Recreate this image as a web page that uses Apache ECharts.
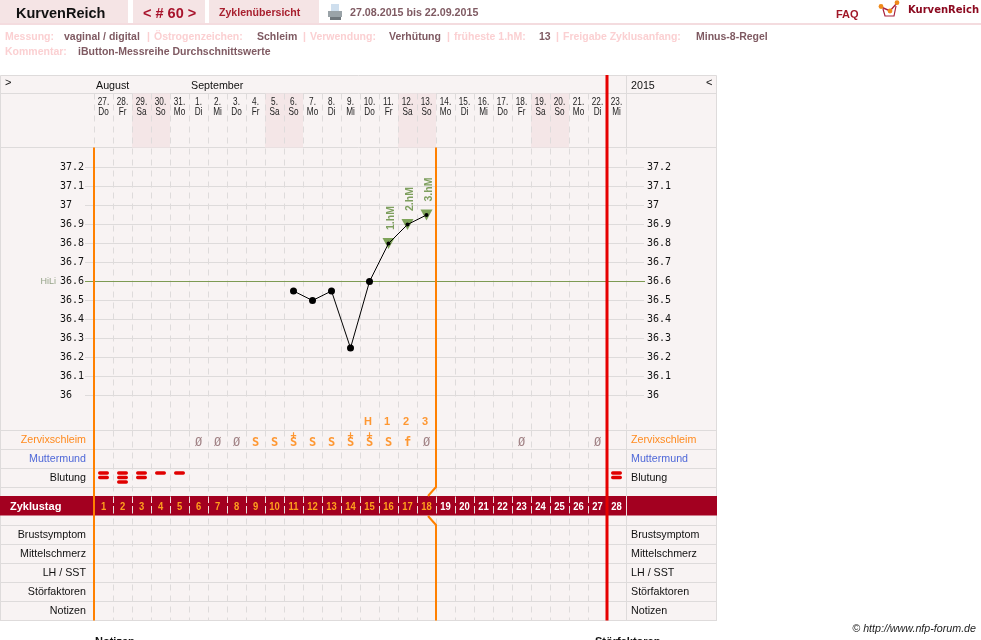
<!DOCTYPE html>
<html>
<head>
<meta charset="utf-8">
<title>KurvenReich Zyklus 60</title>
<style>html,body{margin:0;padding:0;background:#fff}#chart{width:981px;height:640px}</style>
<script src="https://cdn.jsdelivr.net/npm/echarts@6/dist/echarts.min.js"></script>
</head>
<body>
<div id="chart"></div>
<script>
// Cycle calendar
const dates = ['27','28','29','30','31','1','2','3','4','5','6','7','8','9','10','11','12','13','14','15','16','17','18','19','20','21','22','23'];
const weekdays = ['Do','Fr','Sa','So','Mo','Di','Mi','Do','Fr','Sa','So','Mo','Di','Mi','Do','Fr','Sa','So','Mo','Di','Mi','Do','Fr','Sa','So','Mo','Di','Mi'];
const cycleDays = dates.map((d, i) => String(i + 1));

// Daily readings
const temperatures = [null,null,null,null,null,null,null,null,null,null,36.55,36.5,36.55,36.25,36.6,36.8,36.9,36.95,null,null,null,null,null,null,null,null,null,null];
const highDays = [null,null,null,null,null,null,null,null,null,null,null,null,null,null,null,'1.hM','2.hM','3.hM',null,null,null,null,null,null,null,null,null,null];
const mucus = ['','','','','','Ø','Ø','Ø','S','S','S+','S','S','S+','S+','S','f','Ø','','','','','Ø','','','','Ø',''];
const peakMarks = ['','','','','','','','','','','','','','','H','1','2','3','','','','','','','','','',''];
const bleeding = [2,3,2,1,1,0,0,0,0,0,0,0,0,0,0,0,0,0,0,0,0,0,0,0,0,0,0,2];

// Axis ticks and row captions
const tempTicks = [36,36.1,36.2,36.3,36.4,36.5,36.6,36.7,36.8,36.9,37,37.1,37.2];
const coverLine = 36.6;
const rowNames = ['Zervixschleim','Muttermund','Blutung','Brustsymptom','Mittelschmerz','LH / SST','Störfaktoren','Notizen'];
const rowColors = ['#ff8a1e','#4f68d8','#111','#111','#111','#111','#111','#111'];
const rowCentres = [0.5,1.5,2.5,5.5,6.5,7.5,8.5,9.5];
const rowRules = [0,1,2,3,5,6,7,8,9,10];
const lastOrangeDay = 18;
const lastCycleDay = 27;

// Table geometry
const L = 94, CELL = 19, R = L + 28 * CELL;
const ROWS_TOP = 430.5, ROW_H = 19;
const edgeX = d => L + d * CELL;
const BG = '#f8f3f3', RULE = '#dedbdb', PALE = '#fbd0d2', DARK = '#7f5a62', WINE = '#a30020';
const SANS = '"Liberation Sans", Arial, sans-serif';
const MONO = '"DejaVu Sans Mono", monospace';

const txt = (x, y, text, font, fill, align) => ({
  type: 'text', x, y, z: 5,
  style: { text, font: font + ' ' + SANS, fill, verticalAlign: 'middle', align: align || 'left' }
});
const rect = (x, y, width, height, fill, z, r) => ({ type: 'rect', z: z || 0, shape: { x, y, width, height, r: r || 0 }, style: { fill } });
const line = (x1, y1, x2, y2, stroke, lineWidth, z) => ({ type: 'line', z: z || 0, shape: { x1, y1, x2, y2 }, style: { stroke, lineWidth } });
const poly = (points, stroke, lineWidth, z) => ({ type: 'polyline', z: z || 6, shape: { points }, style: { stroke, lineWidth, fill: null } });
const dot = (cx, cy, r, fill) => ({ type: 'circle', z: 6, shape: { cx, cy, r }, style: { fill } });

const B = 'bold 10.5px';
const headerInfo = [
  [5,'Messung:',PALE],[64,'vaginal / digital',DARK],[147,'|',PALE],[154,'Östrogenzeichen:',PALE],[257,'Schleim',DARK],
  [303,'|',PALE],[310,'Verwendung:',PALE],[389,'Verhütung',DARK],[447,'|',PALE],[454,'früheste 1.hM:',PALE],
  [539,'13',DARK],[556,'|',PALE],[563,'Freigabe Zyklusanfang:',PALE],[696,'Minus-8-Regel',DARK]
];

const graphicElements = [
  // page header
  rect(0,0,128,23,'#f5e4e5'), rect(133,0,72,23,'#f5e4e5'), rect(209,0,110,23,'#f5e4e5'),
  rect(0,23,981,2,'#f4dcdf'),
  txt(16,14,'KurvenReich','bold 14.5px','#111'),
  txt(143,14,'< # 60 >','bold 14.5px','#a8132c'),
  txt(219,13,'Zyklenübersicht','bold 10.6px','#a8202f'),
  txt(350,13,'27.08.2015 bis 22.09.2015','bold 10.7px',DARK),
  txt(836,14.5,'FAQ','bold 11px','#a01828'),
  { type:'text', x:908, y:10, z:5, style:{ text:'KurvenReich', font:'bold 10px "DejaVu Sans", sans-serif', fill:'#8c0a20', verticalAlign:'middle' } },
  // printer icon
  rect(331,4,8,7,'#cfdfee',6), rect(328,11,14,6,'#9aa3a8',6), rect(330,17,11,3,'#6f777c',6),
  // logo
  poly([[883,9],[885,16],[894,16],[896,6]],'#a8203c',1.2), poly([[881,7],[890,11],[897,3]],'#a8203c',1.4),
  dot(881,6.5,2.4,'#f08a1a'), dot(890,11,2.4,'#f08a1a'), dot(897,2.7,2.4,'#f08a1a'),
  // summary lines
  ...headerInfo.map(([x,t,c]) => txt(x,37,t,B,c)),
  txt(5,52,'Kommentar:',B,PALE), txt(78,52,'iButton-Messreihe Durchschnittswerte',B,DARK),
  // table body and rules
  { type:'rect', z:0, shape:{ x:0.5, y:75.5, width:716, height:545 }, style:{ fill:BG, stroke:RULE, lineWidth:1 } },
  line(0,93.5,717,93.5,RULE,1), line(0,147.5,717,147.5,RULE,1), line(R+0.5,75,R+0.5,148,RULE,1),
  // Zyklustag band
  rect(0,496,717,19.5,WINE,1),
  line(R+0.5,496,R+0.5,515.5,'#e8dfe0',1,2),
  txt(10,507,'Zyklustag','bold 11px','#fff'),
  txt(96,86,'August','10.7px','#111'), txt(191,86,'September','10.7px','#111'), txt(631,86,'2015','10.7px','#111'),
  txt(5,83,'>','11px','#111'), txt(706,83,'<','11px','#111'),
  // row captions on both sides of the table
  ...rowNames.map((n, i) => txt(86, ROWS_TOP + rowCentres[i] * ROW_H, n, '10.7px', rowColors[i], 'right')),
  ...rowNames.map((n, i) => txt(631, ROWS_TOP + rowCentres[i] * ROW_H, n, '10.7px', rowColors[i])),
  // cycle boundaries
  line(edgeX(0),147.5,edgeX(0),620.5,'#ff8000',2,6),
  poly([[edgeX(lastOrangeDay),147.5],[edgeX(lastOrangeDay),487],[edgeX(lastOrangeDay)-8,496]],'#ff8000',2),
  poly([[edgeX(lastOrangeDay)-8,516],[edgeX(lastOrangeDay),525],[edgeX(lastOrangeDay),620.5]],'#ff8000',2),
  line(edgeX(lastCycleDay),75,edgeX(lastCycleDay),620.5,'#e60000',3,6),
  // footer
  txt(976,629,'© http://www.nfp-forum.de','italic 10.7px','#222','right'),
  txt(95,642,'Notizen','bold 11px','#111'), txt(595,642,'Störfaktoren','bold 11px','#111')
];

const dashed = { show:true, interval:0, lineStyle:{ color:RULE, type:[6,5], width:1 } };
const catAxis = (gridIndex, extra) => Object.assign({
  type:'category', gridIndex, data:dates, boundaryGap:true, z:1,
  axisLine:{ show:false }, axisTick:{ show:false }, axisLabel:{ show:false }, splitLine:dashed
}, extra);
const ruleStyle = { color:RULE, width:1 };

// Horizontally condensed cell text, placed through the axis scales
const condensed = (params, api, value, style, scaleX) => {
  const c = api.coord([api.value(0), api.value(1)]);
  return { type:'text', x:c[0], y:c[1], scaleX, style:Object.assign({
    x:0, y:0, align:'center', verticalAlign:'middle', text:value, font:'11px ' + SANS }, style) };
};

const option = {
  animation:false,
  backgroundColor:'#fff',
  graphic:{ elements:graphicElements },
  grid:[
    { left:L, width:R-L, top:93.5, height:54 },
    { left:L, width:R-L, top:148.5, height:285 },
    { left:L, width:R-L, top:ROWS_TOP, height:190 },
    { left:L, width:R-L, top:499, height:12 }
  ],
  xAxis:[
    catAxis(0,{ position:'top' }),
    catAxis(1),
    catAxis(2),
    catAxis(3,{ z:3, splitLine:{ show:true, interval:0, lineStyle:{ color:'#f3dfe2', type:[4,3], width:1 } } })
  ],
  yAxis:[
    { type:'value', gridIndex:0, min:0, max:54, inverse:true, show:false },
    { type:'value', gridIndex:1, min:35.8, max:37.3, position:'left', z:1,
      axisLine:{ show:false },
      axisTick:{ show:true, length:9, customValues:tempTicks, lineStyle:ruleStyle },
      splitLine:{ show:true, lineStyle:ruleStyle },
      axisLabel:{ customValues:tempTicks, margin:34, align:'left', fontSize:10, fontFamily:MONO, color:'#111' } },
    { type:'value', gridIndex:1, min:35.8, max:37.3, position:'right', z:1,
      axisLine:{ show:false },
      axisTick:{ show:true, length:18, customValues:tempTicks, lineStyle:ruleStyle },
      splitLine:{ show:false },
      axisLabel:{ customValues:tempTicks, margin:21, align:'left', fontSize:10, fontFamily:MONO, color:'#111' } },
    { type:'value', gridIndex:2, min:0, max:10, inverse:true, position:'left', z:1,
      axisLine:{ show:false }, axisLabel:{ show:false },
      axisTick:{ show:true, length:94, customValues:rowRules, lineStyle:ruleStyle },
      splitLine:{ show:true, lineStyle:ruleStyle } },
    { type:'value', gridIndex:2, min:0, max:10, inverse:true, position:'right', z:1,
      axisLine:{ show:true, lineStyle:ruleStyle }, axisLabel:{ show:false },
      axisTick:{ show:true, length:91, customValues:rowRules, lineStyle:ruleStyle },
      splitLine:{ show:false } },
    { type:'value', gridIndex:3, min:0, max:1, show:false }
  ],
  series:[
    // weekend shading in the date header
    { type:'bar', xAxisIndex:0, yAxisIndex:0, barWidth:'100%', silent:true, z:0,
      itemStyle:{ color:'#f4e6e7' },
      data:weekdays.map(w => (w === 'Sa' || w === 'So') ? 54 : null) },
    // date and weekday in the header cells
    { type:'custom', xAxisIndex:0, yAxisIndex:0, z:4, silent:true,
      data:dates.map((d, i) => [i, 8.3]),
      renderItem:(params, api) => condensed(params, api, dates[params.dataIndex] + '.', { fill:'#222', font:'10.5px ' + SANS }, 0.78) },
    { type:'custom', xAxisIndex:0, yAxisIndex:0, z:4, silent:true,
      data:weekdays.map((w, i) => [i, 18.3]),
      renderItem:(params, api) => condensed(params, api, weekdays[params.dataIndex], { fill:'#222', font:'10.5px ' + SANS }, 0.78) },
    // triangles on the three high days, with their captions
    { type:'scatter', xAxisIndex:1, yAxisIndex:1, symbol:'triangle', symbolRotate:180, symbolSize:[12,11], z:3,
      itemStyle:{ color:'#5f8f32' },
      label:{ show:true, position:'top', distance:8, rotate:90, align:'left', verticalAlign:'middle', offset:[0,3],
        color:'#5f8a38', fontSize:10.5, fontWeight:'bold', fontFamily:SANS,
        formatter:p => highDays[p.dataIndex] },
      data:temperatures.map((t, i) => highDays[i] ? t : null) },
    // temperature curve
    { type:'line', xAxisIndex:1, yAxisIndex:1, z:4, showAllSymbol:true,
      symbol:'circle', symbolSize:(v, p) => highDays[p.dataIndex] ? 4 : 7,
      lineStyle:{ color:'#000', width:1 }, itemStyle:{ color:'#000' },
      markLine:{ silent:true, symbol:'none', z:2,
        lineStyle:{ color:'#7d9a52', type:'solid', width:1 },
        label:{ show:true, position:'start', distance:29, formatter:'HiLi', color:'#95a388', fontSize:9, fontFamily:SANS },
        data:[[{ x:85, yAxis:coverLine },{ x:645, yAxis:coverLine }]] },
      data:temperatures },
    // peak day markers
    { type:'scatter', xAxisIndex:1, yAxisIndex:1, symbolSize:1, itemStyle:{ color:'transparent' }, z:4,
      label:{ show:true, position:'inside', offset:[-1.5,1], color:'#ff8000', fontSize:11, fontWeight:'bold', fontFamily:SANS, formatter:p => peakMarks[p.dataIndex] },
      data:peakMarks.map((m, i) => m ? [i,35.865] : null) },
    // mucus observations
    { type:'scatter', xAxisIndex:2, yAxisIndex:3, symbolSize:1, itemStyle:{ color:'transparent' }, z:4,
      label:{ show:true, position:'inside', offset:[0,2.5], fontSize:12, fontFamily:MONO,
        formatter:p => mucus[p.dataIndex].charAt(0) },
      data:mucus.map((m, i) => m ? { value:[i,rowCentres[0]], label:{ color:m === 'Ø' ? '#8a6468' : '#ff8000', fontWeight:m === 'Ø' ? 'normal' : 'bold' } } : null) },
    { type:'scatter', xAxisIndex:2, yAxisIndex:3, symbolSize:1, itemStyle:{ color:'transparent' }, z:4,
      label:{ show:true, position:'inside', offset:[0,-5], fontSize:10, fontWeight:'bold', fontFamily:MONO, color:'#ff8000', formatter:'+' },
      data:mucus.map((m, i) => m === 'S+' ? [i,rowCentres[0]] : null) },
    // bleeding strokes
    { type:'custom', xAxisIndex:2, yAxisIndex:3, z:4, silent:true,
      data:bleeding.map((n, i) => [i, rowCentres[2], n]),
      renderItem:(params, api) => {
        const c = api.coord([api.value(0), api.value(1)]);
        const n = api.value(2);
        const children = [];
        for (let k = 0; k < n; k++) {
          children.push({ type:'rect', shape:{ x:c[0]-5.5, y:c[1]-6.7+k*4.5, width:11, height:3.5, r:1.7 }, style:{ fill:'#e00000' } });
        }
        return { type:'group', children };
      } },
    // cycle day numbers
    { type:'custom', xAxisIndex:2, yAxisIndex:3, z:4, silent:true,
      data:cycleDays.map((d, i) => [i, 4]),
      renderItem:(params, api) => condensed(params, api, cycleDays[params.dataIndex],
        { fill:params.dataIndex < lastOrangeDay ? '#ffa01e' : '#fff', font:'bold 11.5px ' + SANS }, 0.82) }
  ]
};

const chart = echarts.init(document.getElementById('chart'), null, { renderer:'canvas' });
chart.setOption(option);
</script>
</body>
</html>
